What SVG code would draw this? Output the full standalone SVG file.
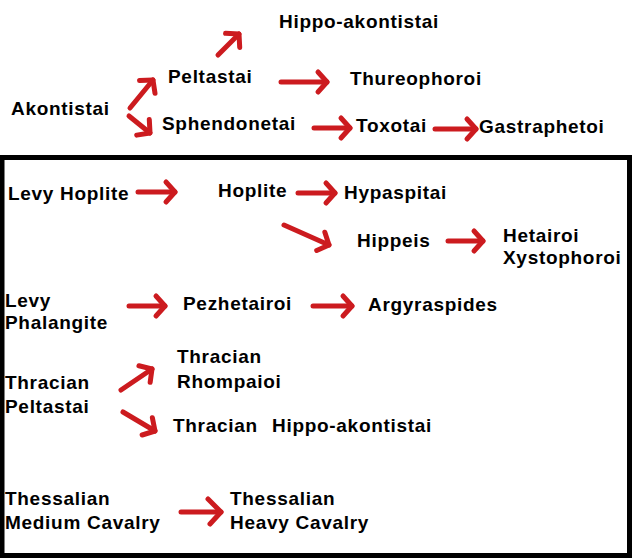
<svg xmlns="http://www.w3.org/2000/svg" width="638" height="559" viewBox="0 0 638 559">
<style>
text{font-family:"Liberation Sans",Arial,sans-serif;font-weight:bold;font-size:19px;letter-spacing:0.7px;fill:#000}
.c line{stroke:#cc1b1f;stroke-width:5;stroke-linecap:round;fill:none;marker-end:url(#ah)}
.c line.big{marker-end:url(#ah2)}
</style>
<defs>
<marker id="ah" viewBox="-14 -14 18 28" refX="0" refY="0" markerWidth="18" markerHeight="28" orient="auto" markerUnits="userSpaceOnUse">
<path d="M-9,-10 L0,0 L-9,10" fill="none" stroke="#cc1b1f" stroke-width="5" stroke-linecap="round" stroke-linejoin="round"/>
</marker>
<marker id="ah2" viewBox="-18 -17 22 34" refX="0" refY="0" markerWidth="22" markerHeight="34" orient="auto" markerUnits="userSpaceOnUse">
<path d="M-13,-13 L0,0 L-11,12" fill="none" stroke="#cc1b1f" stroke-width="5" stroke-linecap="round" stroke-linejoin="round"/>
</marker>
</defs>
<rect x="0" y="0" width="638" height="559" fill="#fff"/>
<rect x="2" y="157.5" width="627.5" height="398" fill="none" stroke="#000" stroke-width="5"/>

<g id="akontistai"><text x="11" y="115">Akontistai</text></g>
<g id="peltastai"><text x="168" y="83">Peltastai</text></g>
<g id="hippo-akontistai"><text x="279" y="28">Hippo-akontistai</text></g>
<g id="sphendonetai"><text x="162" y="130">Sphendonetai</text></g>
<g id="thureophoroi"><text x="350" y="85">Thureophoroi</text></g>
<g id="toxotai"><text x="356" y="132">Toxotai</text></g>
<g id="gastraphetoi"><text x="479" y="133">Gastraphetoi</text></g>

<g id="levy-hoplite"><text x="8" y="200">Levy Hoplite</text></g>
<g id="hoplite"><text x="218" y="197">Hoplite</text></g>
<g id="hypaspitai"><text x="344" y="199">Hypaspitai</text></g>
<g id="hippeis"><text x="357" y="247">Hippeis</text></g>
<g id="hetairoi-xystophoroi"><text x="503" y="242">Hetairoi</text><text x="503" y="264">Xystophoroi</text></g>
<g id="levy-phalangite"><text x="5" y="307">Levy</text><text x="5" y="329">Phalangite</text></g>
<g id="pezhetairoi"><text x="183" y="310">Pezhetairoi</text></g>
<g id="argyraspides"><text x="368" y="311">Argyraspides</text></g>
<g id="thracian-peltastai"><text x="5" y="389">Thracian</text><text x="5" y="413">Peltastai</text></g>
<g id="thracian-rhompaioi"><text x="177" y="363">Thracian</text><text x="177" y="388">Rhompaioi</text></g>
<g id="thracian-hippo-akontistai"><text x="173" y="432">Thracian</text><text x="272" y="432">Hippo-akontistai</text></g>
<g id="thessalian-medium"><text x="5" y="505">Thessalian</text><text x="5" y="529">Medium Cavalry</text></g>
<g id="thessalian-heavy"><text x="230" y="505">Thessalian</text><text x="230" y="529">Heavy Cavalry</text></g>

<g id="connectors" class="c">
<line x1="130" y1="108" x2="153" y2="80"/>
<line x1="129" y1="116" x2="150" y2="133"/>
<line x1="218" y1="55" x2="239" y2="34"/>
<line x1="281" y1="82" x2="327" y2="82"/>
<line x1="314" y1="128" x2="350" y2="128"/>
<line x1="435" y1="129" x2="476" y2="129"/>
<line x1="138" y1="192" x2="175" y2="192"/>
<line x1="298" y1="193" x2="335" y2="193"/>
<line x1="284" y1="225" x2="329" y2="245"/>
<line x1="448" y1="241" x2="483" y2="241"/>
<line x1="129" y1="306" x2="165" y2="306"/>
<line x1="313" y1="306" x2="352" y2="306"/>
<line x1="121" y1="390" x2="152" y2="369"/>
<line x1="123" y1="412" x2="155" y2="431"/>
<line class="big" x1="181" y1="512" x2="221" y2="512"/>
</g>
</svg>
